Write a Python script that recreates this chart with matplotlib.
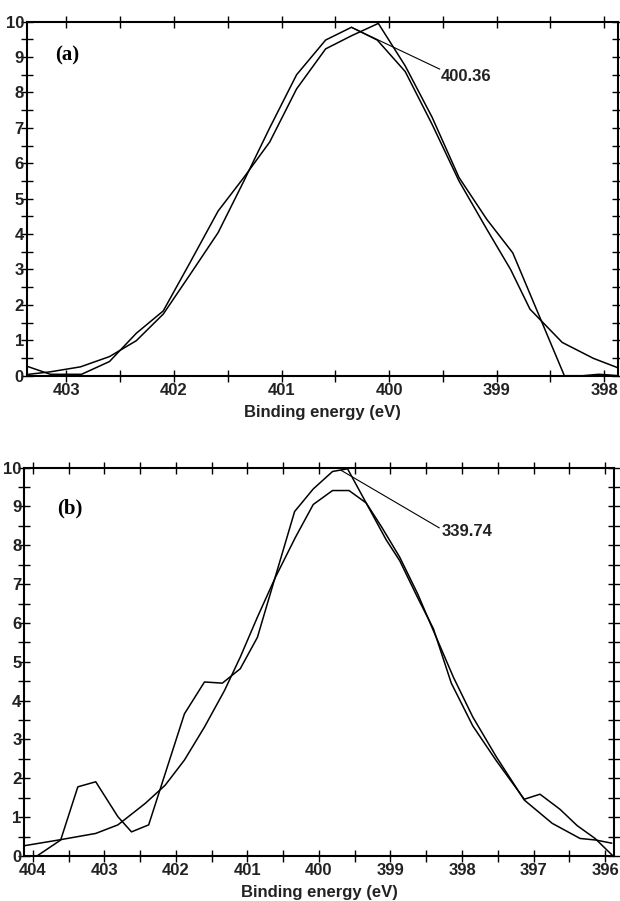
import matplotlib
matplotlib.use("Agg")
import matplotlib.pyplot as plt
from matplotlib.ticker import MultipleLocator

SANS = ['Liberation Sans Narrow', 'Liberation Sans', 'DejaVu Sans']
SERIF = ['Liberation Serif', 'DejaVu Serif']

# ---- panel (a): N 1s, measured trace and fitted peak ----
a_raw_x = [403.37, 403.15, 402.86, 402.60, 402.35, 402.10, 401.85, 401.59, 401.35,
           401.11, 400.86, 400.59, 400.35, 400.10, 399.85, 399.60, 399.35, 399.09,
           398.85, 398.37, 398.20, 398.05, 397.95, 397.87]
a_raw_y = [0.27, 0.04, 0.04, 0.40, 1.20, 1.83, 3.20, 4.65, 5.60,
           6.60, 8.10, 9.23, 9.60, 9.95, 8.75, 7.30, 5.60, 4.41,
           3.47, 0.00, 0.00, 0.04, 0.02, 0.00]

a_fit_x = [403.35, 403.15, 402.87, 402.60, 402.35, 402.10, 401.85, 401.59, 401.35,
           401.11, 400.86, 400.59, 400.35, 400.11, 399.85, 399.60, 399.35, 399.09,
           398.87, 398.69, 398.39, 398.10, 397.86]
a_fit_y = [0.04, 0.11, 0.25, 0.54, 0.99, 1.74, 2.86, 4.04, 5.50,
           7.00, 8.50, 9.48, 9.84, 9.48, 8.59, 7.10, 5.50, 4.13,
           3.00, 1.88, 0.94, 0.49, 0.21]

# ---- panel (b) ----
b_raw_x = [403.94, 403.61, 403.37, 403.12, 402.81, 402.62, 402.38, 401.88, 401.60,
           401.35, 401.10, 400.86, 400.34, 400.08, 399.81, 399.60, 399.34, 399.06,
           398.87, 398.62, 398.40, 398.15, 397.85, 397.52, 397.13, 396.91, 396.63,
           396.39, 396.14, 395.89]
b_raw_y = [0.00, 0.41, 1.78, 1.91, 1.01, 0.62, 0.80, 3.66, 4.48,
           4.45, 4.82, 5.63, 8.87, 9.45, 9.90, 9.97, 9.09, 8.14,
           7.60, 6.65, 5.85, 4.45, 3.35, 2.45, 1.46, 1.59, 1.20,
           0.78, 0.45, 0.00]

b_fit_x = [404.13, 403.64, 403.12, 402.81, 402.43, 402.15, 401.88, 401.60, 401.32,
           401.10, 400.86, 400.61, 400.33, 400.08, 399.81, 399.58, 399.34, 399.12,
           398.87, 398.62, 398.40, 398.12, 397.85, 397.52, 397.13, 396.74, 396.35,
           396.13, 395.91]
b_fit_y = [0.26, 0.41, 0.58, 0.80, 1.35, 1.82, 2.47, 3.32, 4.26,
           5.12, 6.15, 7.17, 8.20, 9.05, 9.41, 9.41, 9.09, 8.46,
           7.69, 6.75, 5.80, 4.60, 3.58, 2.55, 1.44, 0.84, 0.45,
           0.41, 0.33]

panels = [
    dict(rect=[0.043, 0.583, 0.954, 0.393], xlim=(403.37, 397.87), xticks=range(398, 404),
         raw=(a_raw_x, a_raw_y), fit=(a_fit_x, a_fit_y), tag='(a)', tag_pos=(0.048, 0.905),
         note='400.36', lead=((400.35, 9.84), (399.53, 8.66)), note_xy=(399.52, 8.46)),
    dict(rect=[0.039, 0.050, 0.952, 0.431], xlim=(404.12, 395.87), xticks=range(396, 405),
         raw=(b_raw_x, b_raw_y), fit=(b_fit_x, b_fit_y), tag='(b)', tag_pos=(0.056, 0.895),
         note='339.74', lead=((399.69, 9.93), (398.32, 8.45)), note_xy=(398.29, 8.36)),
]

fig = plt.figure(figsize=(6.2, 9.01), dpi=100)

for p in panels:
    ax = fig.add_axes(p['rect'])
    ax.plot(*p['raw'], color='black', lw=1.1)
    ax.plot(*p['fit'], color='black', lw=1.1)

    # leader line from the peak to its label
    (x0, y0), (x1, y1) = p['lead']
    ax.plot([x0, x1], [y0, y1], color='black', lw=0.8)
    ax.text(p['note_xy'][0], p['note_xy'][1], p['note'], fontsize=12, fontweight='bold',
            family=SANS, ha='left', va='center', color='#222222')
    ax.text(*p['tag_pos'], p['tag'], transform=ax.transAxes, fontsize=15,
            fontweight='bold', family=SERIF, ha='left', va='center')

    ax.set_xlim(*p['xlim'])
    ax.set_ylim(0, 10)
    ax.set_xticks(list(p['xticks']))
    ax.xaxis.set_minor_locator(MultipleLocator(0.5))
    ax.yaxis.set_major_locator(MultipleLocator(1))
    ax.yaxis.set_minor_locator(MultipleLocator(0.5))

    for s in ax.spines.values():
        s.set_linewidth(1.5)
    ax.tick_params(which='both', direction='inout', top=True, right=True,
                   length=8, width=1.0, color='black')
    ax.tick_params(axis='x', which='major', pad=1)
    ax.tick_params(axis='y', which='major', pad=-2)

    for lab in ax.get_xticklabels() + ax.get_yticklabels():
        lab.set_family(SANS)
        lab.set_fontweight('bold')
        lab.set_fontsize(12)
        lab.set_color('#222222')

    ax.set_xlabel('Binding energy (eV)', fontsize=12, fontweight='bold', family=SANS,
                  labelpad=5, color='#222222')

fig.savefig('out.png', dpi=100)
